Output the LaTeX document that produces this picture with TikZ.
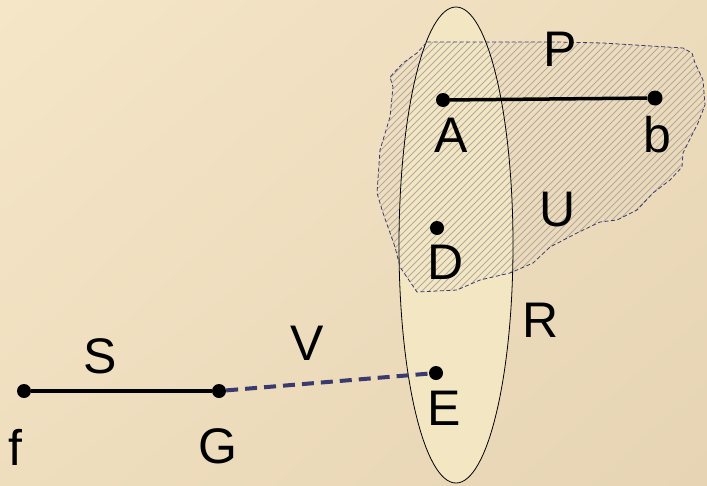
\documentclass[tikz,border=0pt]{standalone}
\usepackage{fontspec}
\setmainfont{Liberation Sans}
\usetikzlibrary{shadings}
\definecolor{bgTL}{HTML}{F5E6C8}
\definecolor{bgTR}{HTML}{EDDCBC}
\definecolor{bgBL}{HTML}{EFDEBE}
\definecolor{bgBR}{HTML}{E6D4B4}
\definecolor{ellfill}{HTML}{F3E6C3}
\definecolor{hatchcol}{HTML}{B2AAA0}
\definecolor{navy}{HTML}{3A3A6E}
\begin{document}
\begin{tikzpicture}[x=1pt,y=-1pt,
  lab/.style={font=\fontsize{50}{54}\selectfont, inner sep=0pt, anchor=center},
  dot/.style={circle, fill=black, inner sep=0pt, minimum size=14pt},
  seg/.style={line width=3.5pt, black},
  vlink/.style={line width=4pt, navy, dash pattern=on 12pt off 7pt},
  blobborder/.style={navy, line width=0.8pt, dash pattern=on 4pt off 2.5pt},
  hatchline/.style={hatchcol, line width=0.75pt}]
\useasboundingbox (0,0) rectangle (707,485);
\shade[upper left=bgTL, upper right=bgTR, lower left=bgBL, lower right=bgBR] (0,0) rectangle (707,485);
% ellipse R
\fill[ellfill] (456,245) ellipse [x radius=57, y radius=238];
% hatched region U
\def\blobpath{(427,42) -- (557,42) -- (603,43) -- (683,48) -- (692,53) -- (695,63) -- (703,80) -- (705,105) -- (698,123) -- (683,153) -- (682,167) -- (670,180) -- (653,193) -- (637,210) -- (617,220) -- (600,222) -- (577,233) -- (550,247) -- (533,263) -- (510,273) -- (480,280) -- (457,290) -- (417,292) -- (400,267) -- (395,247) -- (383,213) -- (377,193) -- (380,150) -- (390,117) -- (393,87) -- (390,77) -- (403,63) -- (417,53) -- cycle}
\begin{scope}
  \clip \blobpath;
  \foreach \c in {70,77,...,720} \draw[hatchline] (\c,300) -- ++(300,-300);
\end{scope}
\draw[line width=0.8pt] (456,245) ellipse [x radius=57, y radius=238];
\draw[blobborder] \blobpath;
% points
\node[dot] (A) at (443,100) {};
\node[dot, minimum size=15pt] (b) at (655,98) {};
\node[dot] (D) at (437,228) {};
\node[dot] (E) at (436,373) {};
\node[dot] (f) at (24,391) {};
\node[dot] (G) at (219,391) {};
% connectors
\draw[seg] (A) -- (b);
\draw[seg] (f) -- (G);
\draw[vlink] (G) -- (E);
% labels
\node[lab] (lP) at (560,49) {P};
\node[lab] (lA) at (451,135) {A};
\node[lab] (lb) at (657,135) {b};
\node[lab] (lU) at (558,210) {U};
\node[lab] (lD) at (446,262) {D};
\node[lab] (lR) at (541,320) {R};
\node[lab] (lS) at (100,356) {S};
\node[lab] (lV) at (307,343) {V};
\node[lab] (lE) at (444,408) {E};
\node[lab] (lf) at (15,447) {f};
\node[lab] (lG) at (218,446) {G};
\end{tikzpicture}
\end{document}
